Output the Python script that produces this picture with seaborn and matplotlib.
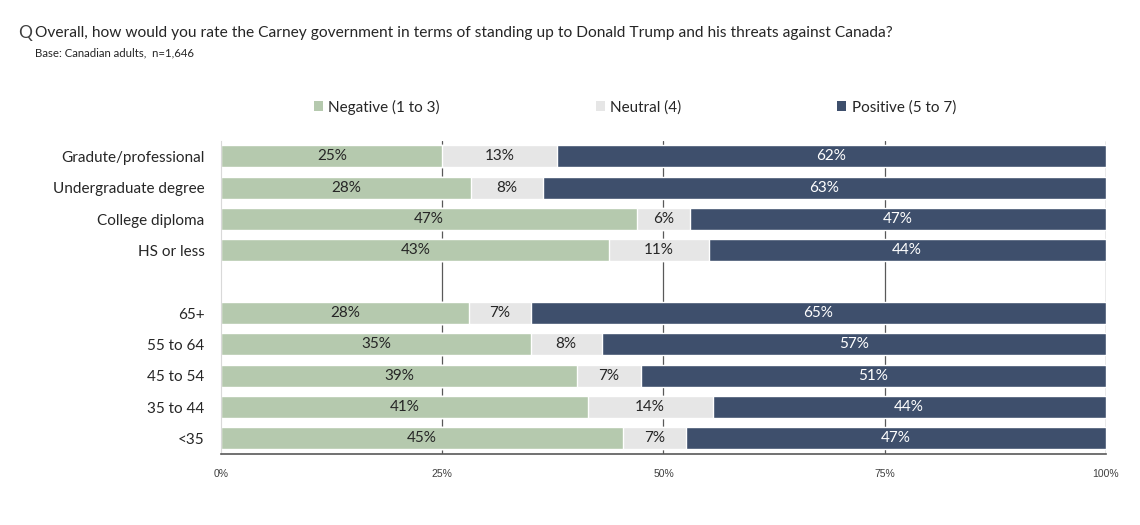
#%% Carney government vs Trump - ratings by education and age
import numpy as np
import pandas as pd
import matplotlib.pyplot as plt
import seaborn as sns
from matplotlib.patches import Patch

groups = ['Gradute/professional', 'Undergraduate degree', 'College diploma', 'HS or less',
          '65+', '55 to 64', '45 to 54', '35 to 44', '<35']
negative = [25, 28, 47, 43, 28, 35, 39, 41, 45]
neutral = [13, 8, 6, 11, 7, 8, 7, 14, 7]
positive = [62, 63, 47, 44, 65, 57, 51, 44, 47]
series = ['Negative (1 to 3)', 'Neutral (4)', 'Positive (5 to 7)']
colors = ['#b5c9ae', '#e6e6e6', '#3e4f6c']

# row order with a blank slot between education and age
order = groups[:4] + [' '] + groups[4:]

df = pd.DataFrame({'group': groups, 'neg': negative, 'neu': neutral, 'pos': positive})
tot = df[['neg', 'neu', 'pos']].sum(axis=1)
# bars are drawn as share of the row total (rounded values don't always sum to 100)
df['c1'] = df['neg'] / tot * 100
df['c2'] = (df['neg'] + df['neu']) / tot * 100
df['c3'] = 100.0

sns.set_style('white')
plt.rcParams['font.family'] = ['Lato', 'DejaVu Sans']

fig = plt.figure(figsize=(11.4, 5.25), dpi=100)
ax = fig.add_axes([0.194, 0.135, 0.776, 0.597])

for col, c in zip(['c3', 'c2', 'c1'], colors[::-1]):
    sns.barplot(data=df, x=col, y='group', order=order, color=c, width=0.7,
                orient='h', ax=ax, saturation=1, zorder=2)

# segment labels
for _, r in df.iterrows():
    yi = order.index(r['group'])
    starts = [0, r['c1'], r['c2']]
    ends = [r['c1'], r['c2'], 100]
    vals = [r['neg'], r['neu'], r['pos']]
    for s, e, v, tc in zip(starts, ends, vals, ['#262626', '#262626', 'white']):
        ax.text((s + e) / 2, yi, f'{v}%', ha='center', va='center', fontsize=11,
                color=tc, zorder=3)

ax.set_xlim(0, 100)
ax.set_ylim(9.5, -0.5)
ax.set_xticks([0, 25, 50, 75, 100])
ax.set_xticklabels(['0%', '25%', '50%', '75%', '100%'], fontsize=7.5, color='#404040',
                   family=['Liberation Sans', 'DejaVu Sans'])
ax.tick_params(axis='x', length=0, pad=11)
ax.tick_params(axis='y', length=0, pad=12, labelsize=11, labelcolor='#262626')
ax.set_xlabel('')
ax.set_ylabel('')
for x in [25, 50, 75, 100]:
    ax.axvline(x, color='#595959', lw=0.9, zorder=1)
ax.spines['top'].set_visible(False)
ax.spines['right'].set_visible(False)
ax.spines['bottom'].set_color('#595959')
ax.spines['bottom'].set_linewidth(1.2)
ax.spines['left'].set_color('#d9d9d9')

handles = [Patch(facecolor=c, edgecolor='none') for c in colors]
fig.legend(handles, series, loc='center', bbox_to_anchor=(0.557, 0.796), ncol=3,
           frameon=False, fontsize=11, handlelength=0.6, handleheight=0.6,
           handletextpad=0.35, columnspacing=10.2, labelcolor='#262626')

fig.text(0.016, 0.937, 'Q', fontsize=12.5, color='#404040', va='center')
fig.text(0.031, 0.937, 'Overall, how would you rate the Carney government in terms of standing up to '
         'Donald Trump and his threats against Canada?', fontsize=11.2, color='#262626', va='center')
fig.text(0.031, 0.899, 'Base: Canadian adults,  n=1,646', fontsize=8.2, color='#262626', va='center')

fig.savefig('out.png', dpi=100)
